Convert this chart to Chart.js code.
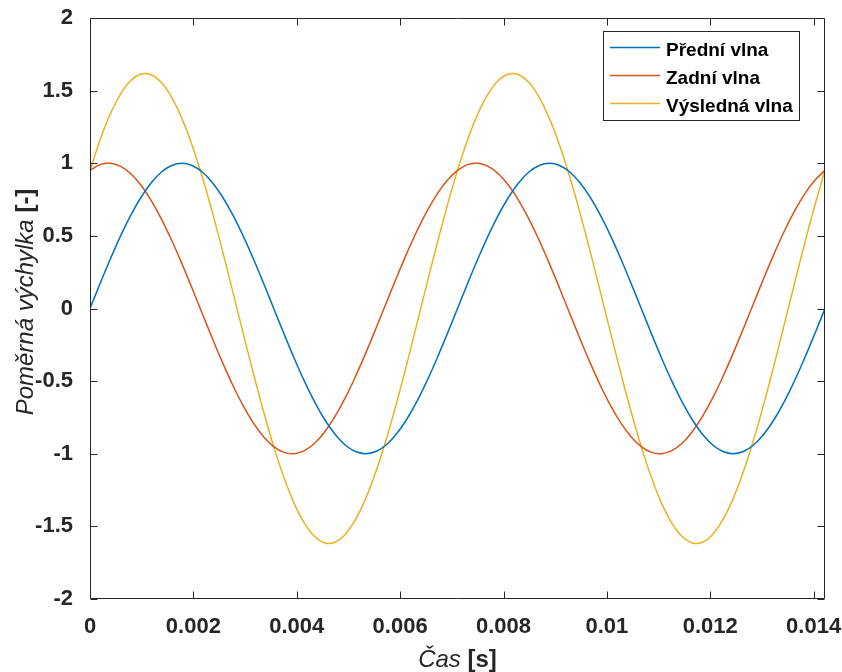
<!DOCTYPE html>
<html><head><meta charset="utf-8">
<script src="https://cdn.jsdelivr.net/npm/chart.js@4"></script>
<style>html,body{margin:0;padding:0;background:#fff}#wrap{width:842px;height:672px}</style>
</head><body><div id="wrap"><canvas id="c" width="842" height="672"></canvas></div>
<script>
// ---- data ----
const timeS = [
0, 0.0001975, 0.000395, 0.0005925, 0.00079, 0.0009875, 0.001185, 0.0013825, 0.00158, 0.0017775,
0.001975, 0.0021725, 0.00237, 0.0025675, 0.002765, 0.0029625, 0.00316, 0.0033575, 0.003555, 0.0037525,
0.00395, 0.0041475, 0.004345, 0.0045425, 0.00474, 0.0049375, 0.005135, 0.0053325, 0.00553, 0.0057275,
0.005925, 0.0061225, 0.00632, 0.0065175, 0.006715, 0.0069125, 0.00711, 0.0073075, 0.007505, 0.0077025,
0.0079, 0.0080975, 0.008295, 0.0084925, 0.00869, 0.0088875, 0.009085, 0.0092825, 0.00948, 0.0096775,
0.009875, 0.0100725, 0.01027, 0.0104675, 0.010665, 0.0108625, 0.01106, 0.0112575, 0.011455, 0.0116525,
0.01185, 0.0120475, 0.012245, 0.0124425, 0.01264, 0.0128375, 0.013035, 0.0132325, 0.01343, 0.0136275,
0.013825, 0.0140225, 0.01422];
const predniVlna = [
0, 0.1736, 0.342, 0.5, 0.6428, 0.766, 0.866, 0.9397, 0.9848, 1,
0.9848, 0.9397, 0.866, 0.766, 0.6428, 0.5, 0.342, 0.1736, 0, -0.1736,
-0.342, -0.5, -0.6428, -0.766, -0.866, -0.9397, -0.9848, -1, -0.9848, -0.9397,
-0.866, -0.766, -0.6428, -0.5, -0.342, -0.1736, 0, 0.1736, 0.342, 0.5,
0.6428, 0.766, 0.866, 0.9397, 0.9848, 1, 0.9848, 0.9397, 0.866, 0.766,
0.6428, 0.5, 0.342, 0.1736, 0, -0.1736, -0.342, -0.5, -0.6428, -0.766,
-0.866, -0.9397, -0.9848, -1, -0.9848, -0.9397, -0.866, -0.766, -0.6428, -0.5,
-0.342, -0.1736, 0];
const zadniVlna = [
0.9511, 0.9903, 0.9994, 0.9781, 0.9272, 0.848, 0.7431, 0.6157, 0.4695, 0.309,
0.1392, -0.0349, -0.2079, -0.3746, -0.5299, -0.6691, -0.788, -0.8829, -0.9511, -0.9903,
-0.9994, -0.9781, -0.9272, -0.848, -0.7431, -0.6157, -0.4695, -0.309, -0.1392, 0.0349,
0.2079, 0.3746, 0.5299, 0.6691, 0.788, 0.8829, 0.9511, 0.9903, 0.9994, 0.9781,
0.9272, 0.848, 0.7431, 0.6157, 0.4695, 0.309, 0.1392, -0.0349, -0.2079, -0.3746,
-0.5299, -0.6691, -0.788, -0.8829, -0.9511, -0.9903, -0.9994, -0.9781, -0.9272, -0.848,
-0.7431, -0.6157, -0.4695, -0.309, -0.1392, 0.0349, 0.2079, 0.3746, 0.5299, 0.6691,
0.788, 0.8829, 0.9511];
const vyslednaVlna = [
0.9511, 1.1639, 1.3414, 1.4781, 1.57, 1.614, 1.6091, 1.5554, 1.4543, 1.309,
1.124, 0.9048, 0.6581, 0.3914, 0.1129, -0.1691, -0.446, -0.7093, -0.9511, -1.1639,
-1.3414, -1.4781, -1.57, -1.614, -1.6091, -1.5554, -1.4543, -1.309, -1.124, -0.9048,
-0.6581, -0.3914, -0.1129, 0.1691, 0.446, 0.7093, 0.9511, 1.1639, 1.3414, 1.4781,
1.57, 1.614, 1.6091, 1.5554, 1.4543, 1.309, 1.124, 0.9048, 0.6581, 0.3914,
0.1129, -0.1691, -0.446, -0.7093, -0.9511, -1.1639, -1.3414, -1.4781, -1.57, -1.614,
-1.6091, -1.5554, -1.4543, -1.309, -1.124, -0.9048, -0.6581, -0.3914, -0.1129, 0.1691,
0.446, 0.7093, 0.9511];
const seriesLabels = ['Přední vlna', 'Zadní vlna', 'Výsledná vlna'];
const xTickValues = [0, 0.002, 0.004, 0.006, 0.008, 0.01, 0.012, 0.014];
const yTickValues = [-2, -1.5, -1, -0.5, 0, 0.5, 1, 1.5, 2];
const xRange = [0, 0.01422];
const yRange = [-2, 2];
const xTitle = ['Čas', ' [s]'];
const yTitle = ['Poměrná výchylka', ' [-]'];

// ---- styling ----
const seriesColors = ['#0072BD', '#D95319', '#EDB120'];
const axisColor = '#262626';
const FAMILY = '"Liberation Sans", Arial, Helvetica, sans-serif';

const toPts = arr => arr.map((v, i) => ({x: timeS[i], y: v}));
const seriesValues = [predniVlna, zadniVlna, vyslednaVlna];

const boxPlugin = {
  id: 'matlabBox',
  afterDatasetsDraw(chart) {
    const {ctx, chartArea: a, scales: {x, y}} = chart;
    const L = Math.round(a.left) + 0.5, R = Math.round(a.right) - 0.5;
    const T = Math.round(a.top) + 0.5, B = Math.round(a.bottom) - 0.5;
    const tl = 7;
    ctx.save();
    ctx.strokeStyle = axisColor;
    ctx.lineWidth = 1;
    ctx.beginPath();
    ctx.moveTo(L, T); ctx.lineTo(R, T); ctx.lineTo(R, B); ctx.lineTo(L, B); ctx.closePath();
    xTickValues.forEach(v => {
      const px = Math.round(x.getPixelForValue(v)) + 0.5;
      ctx.moveTo(px, B); ctx.lineTo(px, B - tl);
      ctx.moveTo(px, T); ctx.lineTo(px, T + tl);
    });
    yTickValues.forEach(v => {
      const py = Math.round(y.getPixelForValue(v)) + 0.5;
      ctx.moveTo(L, py); ctx.lineTo(L + tl, py);
      ctx.moveTo(R, py); ctx.lineTo(R - tl, py);
    });
    ctx.stroke();
    ctx.restore();
  },
  afterDraw(chart) {
    const {ctx, chartArea: a} = chart;
    ctx.save();
    ctx.fillStyle = axisColor;
    ctx.textBaseline = 'alphabetic';
    ctx.textAlign = 'left';
    const fI = 'italic 24px ' + FAMILY, fB = 'bold 24px ' + FAMILY;
    // x title
    ctx.font = fI; const w1 = ctx.measureText(xTitle[0]).width;
    ctx.font = fB; const w2 = ctx.measureText(xTitle[1]).width;
    let sx = (a.left + a.right) / 2 - (w1 + w2) / 2;
    ctx.font = fI; ctx.fillText(xTitle[0], sx, 667);
    ctx.font = fB; ctx.fillText(xTitle[1], sx + w1, 667);
    // y title
    ctx.font = fI; const v1 = ctx.measureText(yTitle[0]).width;
    ctx.font = fB; const v2 = ctx.measureText(yTitle[1]).width;
    ctx.translate(33, 302);
    ctx.rotate(-Math.PI / 2);
    const sy = -(v1 + v2) / 2;
    ctx.font = fI; ctx.fillText(yTitle[0], sy, 0);
    ctx.font = fB; ctx.fillText(yTitle[1], sy + v1, 0);
    ctx.restore();

    // legend
    ctx.save();
    const bx = 603.5, by = 31.5, bw = 196, bh = 89;
    ctx.fillStyle = '#fff';
    ctx.fillRect(bx, by, bw, bh);
    ctx.strokeStyle = axisColor; ctx.lineWidth = 1;
    ctx.strokeRect(bx, by, bw, bh);
    ctx.font = 'bold 19px ' + FAMILY;
    ctx.textBaseline = 'middle';
    chart.data.datasets.forEach((ds, i) => {
      const ly = 47.5 + i * 28;
      ctx.strokeStyle = ds.borderColor; ctx.lineWidth = 1.5;
      ctx.beginPath(); ctx.moveTo(610, ly); ctx.lineTo(660, ly); ctx.stroke();
      ctx.fillStyle = '#000';
      ctx.fillText(ds.label, 666, ly + 3.5);
    });
    ctx.restore();
  }
};

new Chart(document.getElementById('c'), {
  type: 'line',
  data: {
    datasets: seriesLabels.map((lab, i) => ({
      label: lab,
      data: toPts(seriesValues[i]),
      borderColor: seriesColors[i],
      backgroundColor: seriesColors[i],
      borderWidth: 1.5,
      pointRadius: 0,
      tension: 0.33,
      fill: false
    }))
  },
  options: {
    responsive: false,
    animation: false,
    devicePixelRatio: 1,
    layout: {padding: {left: 0, top: 18, right: 17, bottom: 0}},
    plugins: {legend: {display: false}, tooltip: {enabled: false}, title: {display: false}},
    scales: {
      x: {
        type: 'linear', min: xRange[0], max: xRange[1],
        grid: {display: false}, border: {display: false},
        afterBuildTicks: s => { s.ticks = xTickValues.map(v => ({value: v})); },
        afterFit: s => { s.height = 73; s.paddingLeft = 0; s.paddingRight = 0; },
        ticks: {
          autoSkip: false, maxRotation: 0, padding: 7,
          color: axisColor,
          font: {family: FAMILY, size: 22, weight: 'bold'},
          callback: v => String(v)
        }
      },
      y: {
        type: 'linear', min: yRange[0], max: yRange[1],
        grid: {display: false}, border: {display: false},
        afterBuildTicks: s => { s.ticks = yTickValues.map(v => ({value: v})); },
        afterFit: s => { s.width = 90; s.paddingTop = 0; s.paddingBottom = 0; },
        ticks: {
          autoSkip: false, padding: 9,
          color: axisColor,
          font: {family: FAMILY, size: 22, weight: 'bold'},
          callback: v => String(v)
        }
      }
    }
  },
  plugins: [boxPlugin]
});
</script>
</body></html>
